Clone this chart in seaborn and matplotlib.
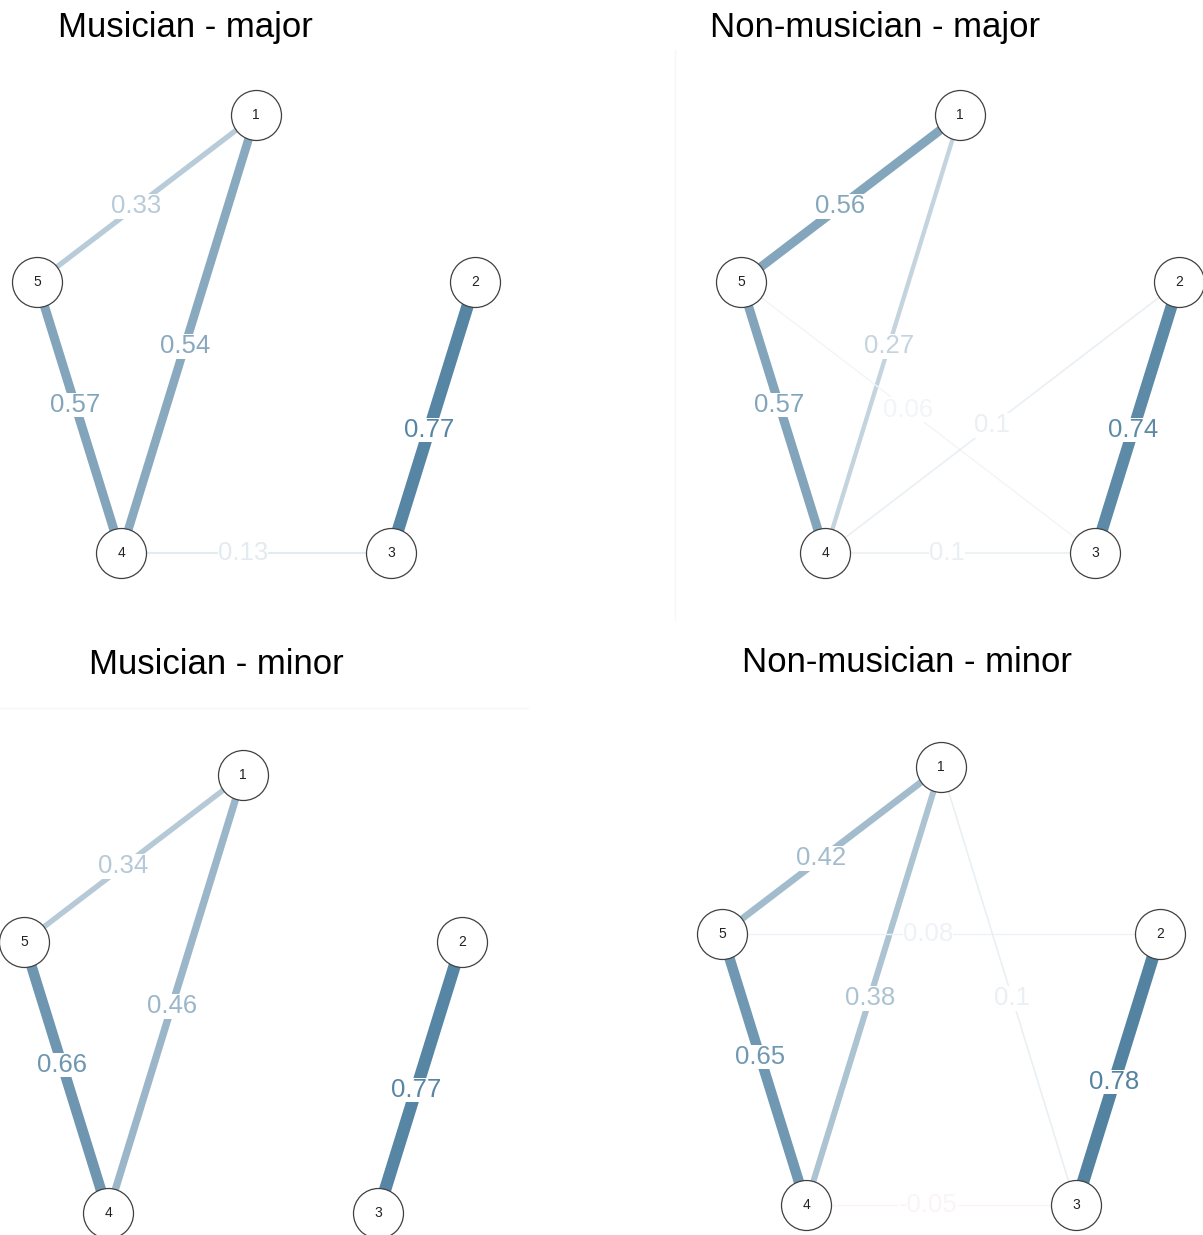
import matplotlib.pyplot as plt
import numpy as np
import pandas as pd
import seaborn as sns
from matplotlib.lines import Line2D

# node layout (shared by all four networks)
nodes = [1, 2, 3, 4, 5]
layout_x = [0.0, 1.0, 0.616, -0.616, -1.0]
layout_y = [1.0, 0.237, -1.0, -1.0, 0.237]

titles = ['Musician - major', 'Non-musician - major', 'Musician - minor', 'Non-musician - minor']

# edges: from, to, partial correlation
mus_major_from = [1, 1, 5, 2, 4]
mus_major_to = [5, 4, 4, 3, 3]
mus_major_w = [0.33, 0.54, 0.57, 0.77, 0.13]

non_major_from = [1, 1, 5, 5, 4, 2, 4]
non_major_to = [5, 4, 4, 3, 2, 3, 3]
non_major_w = [0.56, 0.27, 0.57, 0.06, 0.1, 0.74, 0.1]

mus_minor_from = [1, 1, 5, 2]
mus_minor_to = [5, 4, 4, 3]
mus_minor_w = [0.34, 0.46, 0.66, 0.77]

non_minor_from = [1, 1, 5, 5, 1, 2, 4]
non_minor_to = [5, 4, 4, 2, 3, 3, 3]
non_minor_w = [0.42, 0.38, 0.65, 0.08, 0.1, 0.78, -0.05]

networks = [
    (mus_major_from, mus_major_to, mus_major_w),
    (non_major_from, non_major_to, non_major_w),
    (mus_minor_from, mus_minor_to, mus_minor_w),
    (non_minor_from, non_minor_to, non_minor_w),
]

W, H = 1203, 1235
S = 219  # px per layout unit
# pixel centre of node 1 in each panel, and title centre
anchors = [(256, 115), (960, 115), (243, 775), (941, 767)]
title_pos = [(185, 28), (875, 28), (216, 665), (907, 662)]

pos_color = np.array([80, 128, 160]) / 255
neg_color = np.array([190, 80, 80]) / 255
max_w = 0.8
label_shift = 13 / S  # labels sit a bit toward the higher numbered node

sns.set_theme(style='white')
plt.rcParams['font.family'] = ['Liberation Sans', 'DejaVu Sans']

node_df = pd.DataFrame({'node': nodes, 'x': layout_x, 'y': layout_y}).set_index('node')


def edge_color(w):
    a = min(abs(w) / max_w, 1.0)
    base = pos_color if w >= 0 else neg_color
    return tuple(1 - a * (1 - base))


fig = plt.figure(figsize=(W / 100, H / 100), dpi=100)

# faint panel borders left over in the original
fig.add_artist(Line2D([675 / W, 675 / W], [1 - 50 / H, 1 - 620 / H], color='#f7f7f7', lw=1))
fig.add_artist(Line2D([0, 528 / W], [1 - 708 / H, 1 - 708 / H], color='#f7f7f7', lw=1))

for k, (src, dst, wts) in enumerate(networks):
    cx, cy = anchors[k]
    rect = [(cx - 1.3 * S) / W, 1 - (cy + 2.3 * S) / H, 2.6 * S / W, 2.6 * S / H]
    ax = fig.add_axes(rect)
    ax.set_xlim(-1.3, 1.3)
    ax.set_ylim(-1.3, 1.3)
    ax.set_axis_off()

    edges = pd.DataFrame({'from': src, 'to': dst, 'w': wts})
    for _, e in edges.iterrows():
        a, b = int(e['from']), int(e['to'])
        lo, hi = node_df.loc[min(a, b)], node_df.loc[max(a, b)]
        col = edge_color(e['w'])
        lw_px = max(16 * abs(e['w']), 1.4)
        ax.plot([lo.x, hi.x], [lo.y, hi.y], color=col, lw=lw_px * 0.72,
                solid_capstyle='butt', zorder=1, clip_on=False)
        d = np.array([hi.x - lo.x, hi.y - lo.y])
        d = d / np.linalg.norm(d)
        lx = (lo.x + hi.x) / 2 + d[0] * label_shift
        ly = (lo.y + hi.y) / 2 + d[1] * label_shift
        ax.text(lx, ly, f"{e['w']:g}", color=col, fontsize=18.5,
                ha='center', va='center', zorder=2,
                bbox=dict(facecolor='white', edgecolor='none', pad=0.2))

    sns.scatterplot(data=node_df.reset_index(), x='x', y='y', s=1296, color='white',
                    edgecolor='#404040', linewidth=0.9, zorder=3, ax=ax, clip_on=False,
                    legend=False)
    for n, row in node_df.iterrows():
        ax.text(row.x, row.y, str(n), fontsize=10, ha='center', va='center',
                color='#222222', zorder=4)

    tx, ty = title_pos[k]
    fig.text(tx / W, 1 - ty / H, titles[k], fontsize=25, ha='center', va='center',
             color='black')

plt.savefig('out.png', dpi=100)
